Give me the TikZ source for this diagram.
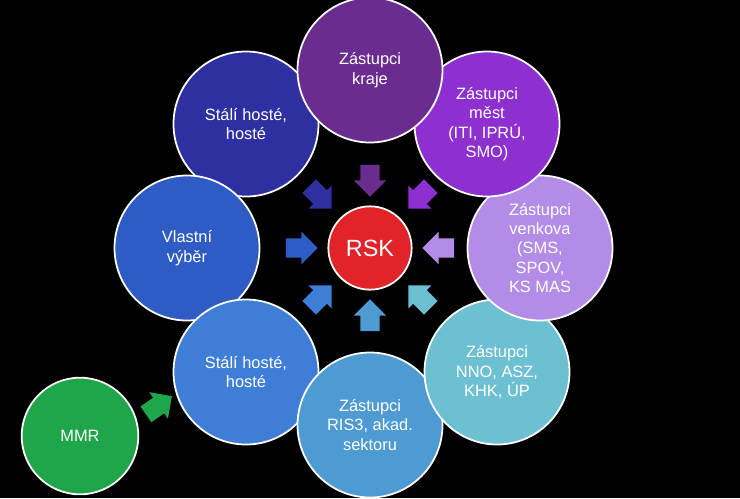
\documentclass[tikz,border=0pt]{standalone}
\usepackage{fontspec}
\setmainfont{Liberation Sans}
\usetikzlibrary{shapes.arrows}
\definecolor{cKraje}{HTML}{6A2C8E}
\definecolor{cMest}{HTML}{8E2FD0}
\definecolor{cVenkov}{HTML}{B28CE6}
\definecolor{cNNO}{HTML}{6CC0D2}
\definecolor{cRIS}{HTML}{4E9AD2}
\definecolor{cHosteB}{HTML}{3F7ED6}
\definecolor{cVyber}{HTML}{2F5CC4}
\definecolor{cHosteA}{HTML}{2E2FA0}
\definecolor{cRSK}{HTML}{E3232A}
\definecolor{cMMR}{HTML}{1FA54A}
\begin{document}
\begin{tikzpicture}[x=0.03cm,y=-0.03cm,
  group/.style={circle, draw=white, line width=1.5pt, minimum size=4.35cm, align=center, text=white, font=\fontsize{14}{16.5}\selectfont},
  push/.style={single arrow, minimum height=0.95cm, inner sep=0.28cm, single arrow head extend=0.2cm, single arrow tip angle=90}
]
\fill[black] (0,0) rectangle (740,498);
\useasboundingbox (0,0) rectangle (740,498);

\node[group, fill=cHosteA] (hosteA) at (246,124) {Stálí hosté,\\hosté};
\node[group, fill=cVyber] (vyber) at (187,248) {Vlastní\\výběr};
\node[group, fill=cHosteB] (hosteB) at (246,372) {Stálí hosté,\\hosté};
\node[group, fill=cRIS] (ris) at (370,425) {Zástupci\\RIS3, akad.\\sektoru};
\node[group, fill=cNNO] (nno) at (497,372) {Zástupci\\NNO, ASZ,\\KHK, ÚP};
\node[group, fill=cVenkov] (venkov) at (540,248) {Zástupci\\venkova\\(SMS,\\SPOV,\\KS MAS};
\node[group, fill=cMest] (mest) at (487,124) {Zástupci\\měst\\(ITI, IPRÚ,\\SMO)};
\node[group, fill=cKraje] (kraje) at (370,70) {Zástupci\\kraje};
\node[group, fill=cRSK, minimum size=2.5cm, font=\fontsize{20}{22}\selectfont] (rsk) at (370,248) {RSK};
\node[group, fill=cMMR, minimum size=3.5cm] (mmr) at (80,436) {MMR};

% arrows toward the centre
\node[push, fill=cKraje, rotate=-90] (aKraje) at (370,176) {};
\node[push, fill=cMest, rotate=-135] (aMest) at (423,194) {};
\node[push, fill=cVenkov, rotate=180] (aVenkov) at (443,248) {};
\node[push, fill=cNNO, rotate=135] (aNNO) at (423,300) {};
\node[push, fill=cRIS, rotate=90] (aRIS) at (370,320) {};
\node[push, fill=cHosteB, rotate=45] (aHosteB) at (317,300) {};
\node[push, fill=cVyber] (aVyber) at (297,248) {};
\node[push, fill=cHosteA, rotate=-45] (aHosteA) at (317,194) {};
\node[push, fill=cMMR, rotate=35] (aMMR) at (155,408) {};
\end{tikzpicture}
\end{document}
